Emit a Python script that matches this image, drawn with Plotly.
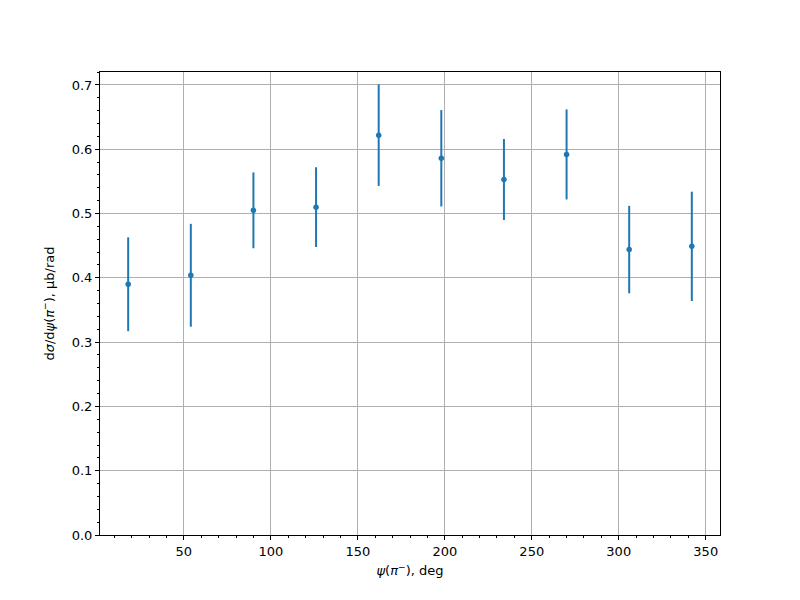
import plotly.graph_objects as go

psi_deg = [18, 54, 90, 126, 162, 198, 234, 270, 306, 342]
dsigma = [0.390, 0.404, 0.505, 0.510, 0.622, 0.586, 0.553, 0.592, 0.444, 0.449]
dsigma_err = [0.073, 0.080, 0.059, 0.062, 0.079, 0.075, 0.063, 0.070, 0.068, 0.085]

color = "#1f77b4"
font = "DejaVu Sans, sans-serif"

fig = go.Figure()
fig.add_trace(go.Scatter(
    x=psi_deg, y=dsigma, mode="markers",
    marker=dict(color=color, size=5.5),
    error_y=dict(type="data", array=dsigma_err, visible=True, color=color,
                 thickness=2, width=0),
    showlegend=False,
))

axis_common = dict(
    showline=True, linecolor="black", linewidth=1, mirror=True,
    showgrid=True, gridcolor="#b0b0b0", gridwidth=0.8,
    ticks="outside", ticklen=4, tickwidth=1, tickcolor="black",
    zeroline=False,
    tickfont=dict(family=font, size=13, color="black"),
)

# page body has an 8px default margin; compensate so the axes sit where the reference has them
fig.update_layout(
    width=784, height=584,
    paper_bgcolor="white", plot_bgcolor="white",
    margin=dict(l=92, r=72, t=64, b=57),
    font=dict(family=font, size=13, color="black"),
    xaxis=dict(
        range=[1.8, 358.2], tickmode="array", tickvals=[50, 100, 150, 200, 250, 300, 350],
        minor=dict(dtick=10, tick0=0, ticks="outside", ticklen=2, tickcolor="black", showgrid=False),
        title=dict(text="<i>ψ</i>(<i>π</i><sup>−</sup>), deg", font=dict(family=font, size=13), standoff=8),
        **axis_common,
    ),
    yaxis=dict(
        range=[0, 0.7202], tickmode="array", tickvals=[0, 0.1, 0.2, 0.3, 0.4, 0.5, 0.6, 0.7],
        tickformat=".1f",
        minor=dict(dtick=0.02, tick0=0, ticks="outside", ticklen=2, tickcolor="black", showgrid=False),
        title=dict(text="d<i>σ</i>/d<i>ψ</i>(<i>π</i><sup>−</sup>), μb/rad", font=dict(family=font, size=13), standoff=14),
        **axis_common,
    ),
)

fig.write_html("out.html")
